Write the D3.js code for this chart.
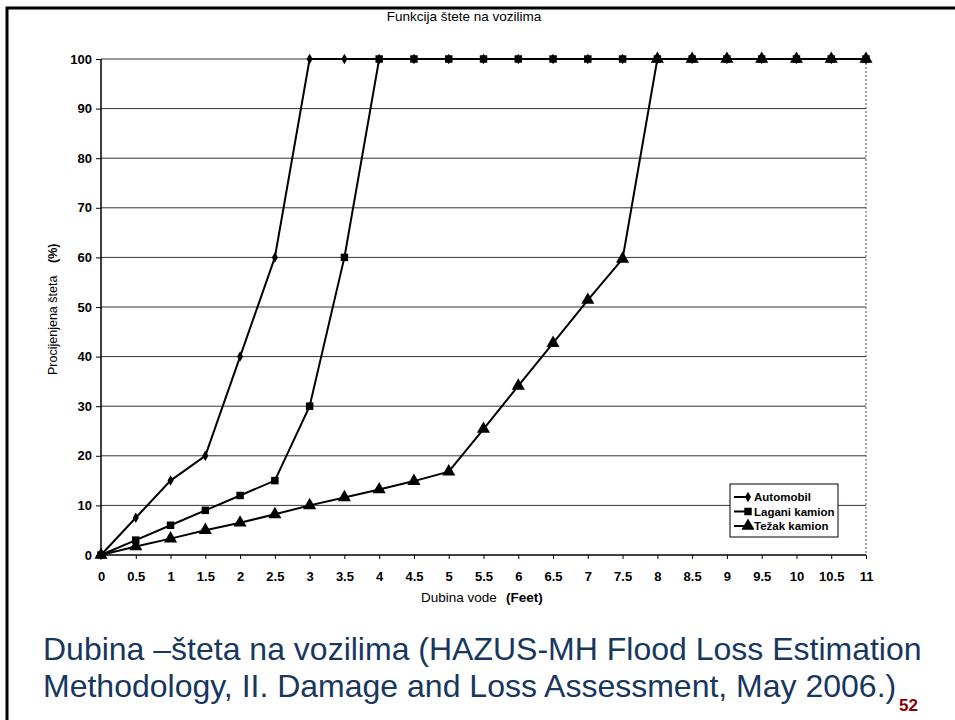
<!DOCTYPE html>
<html>
<head>
<meta charset="utf-8">
<script src="https://cdn.jsdelivr.net/npm/d3@7"></script>
<style>
  body { margin: 0; background: #fff; }
  text { font-family: "Liberation Sans", Arial, sans-serif; }
</style>
</head>
<body>
<div id="chart"></div>
<script>
// data
const depths = [0, 0.5, 1, 1.5, 2, 2.5, 3, 3.5, 4, 4.5, 5, 5.5, 6, 6.5, 7, 7.5, 8, 8.5, 9, 9.5, 10, 10.5, 11];
const automobil = [0, 7.5, 15, 20, 40, 60, 100, 100, 100, 100, 100, 100, 100, 100, 100, 100, 100, 100, 100, 100, 100, 100, 100];
const laganiKamion = [0, 3, 6, 9, 12, 15, 30, 60, 100, 100, 100, 100, 100, 100, 100, 100, 100, 100, 100, 100, 100, 100, 100];
const tezakKamion = [0, 1.7, 3.3, 5, 6.5, 8.2, 10, 11.6, 13.2, 14.9, 16.8, 25.4, 34.1, 42.7, 51.4, 59.7, 100, 100, 100, 100, 100, 100, 100];
const seriesNames = ["Automobil", "Lagani kamion", "Težak kamion"];
const xTicks = [0, 0.5, 1, 1.5, 2, 2.5, 3, 3.5, 4, 4.5, 5, 5.5, 6, 6.5, 7, 7.5, 8, 8.5, 9, 9.5, 10, 10.5, 11];
const yTicks = [0, 10, 20, 30, 40, 50, 60, 70, 80, 90, 100];

const W = 955, H = 720;
const margin = {top: 59, left: 101, right: 89, bottom: 165};
const width = W - margin.left - margin.right,
      height = H - margin.top - margin.bottom;

const x = d3.scaleLinear().domain([0, 11]).range([0, width]);
const y = d3.scaleLinear().domain([0, 100]).range([height, 0]);

const svg = d3.select("#chart").append("svg")
  .attr("width", W).attr("height", H);

// slide frame
svg.append("path")
  .attr("d", "M7,720 V8 H955")
  .attr("fill", "none").attr("stroke", "#000").attr("stroke-width", 3);

// chart title
svg.append("text")
  .attr("x", 464).attr("y", 21)
  .attr("text-anchor", "middle")
  .style("font-size", "13.5px")
  .text("Funkcija štete na vozilima");

const g = svg.append("g")
  .attr("transform", "translate(" + margin.left + "," + margin.top + ")");

// horizontal grid
g.selectAll(".grid")
  .data(yTicks.filter(d => d > 0))
  .enter().append("line")
  .attr("x1", 0).attr("x2", width)
  .attr("y1", d => y(d)).attr("y2", d => y(d))
  .attr("stroke", "#333").attr("stroke-width", 1);

// right dashed border
g.append("line")
  .attr("x1", width).attr("x2", width)
  .attr("y1", 0).attr("y2", height)
  .attr("stroke", "#555").attr("stroke-width", 1)
  .attr("stroke-dasharray", "2,2");

// axes
const yAxis = g.append("g")
  .call(d3.axisLeft(y).tickValues(yTicks).tickSize(5).tickPadding(4));
const xAxis = g.append("g")
  .attr("transform", "translate(0," + height + ")")
  .call(d3.axisBottom(x).tickValues(xTicks).tickSize(4).tickPadding(13)
        .tickFormat(d3.format("")));
[yAxis, xAxis].forEach(a => {
  a.select(".domain").attr("stroke", "#000").attr("stroke-width", 1.5);
  a.selectAll(".tick line").attr("stroke", "#000");
  a.selectAll("text")
   .style("font-family", "'Liberation Sans', Arial, sans-serif")
   .style("font-size", "13px").style("font-weight", "bold").attr("fill", "#000");
});
xAxis.select(".domain").attr("d", "M0,0H" + width);
yAxis.select(".domain").attr("d", "M0,0V" + height);

// series
const line = d3.line().x(d => x(d[0])).y(d => y(d[1]));
const symbols = [
  d3.symbol().type(d3.symbolDiamond).size(32),
  d3.symbol().type(d3.symbolSquare).size(56),
  d3.symbol().type(d3.symbolTriangle).size(75)
];
[automobil, laganiKamion, tezakKamion].forEach((vals, i) => {
  const pts = depths.map((d, j) => [d, vals[j]]);
  g.append("path")
    .datum(pts)
    .attr("d", line)
    .attr("fill", "none").attr("stroke", "#000").attr("stroke-width", 2);
  g.selectAll(".m" + i)
    .data(pts)
    .enter().append("path")
    .attr("d", symbols[i])
    .attr("transform", d => "translate(" + x(d[0]) + "," + y(d[1]) + ")")
    .attr("fill", "#000");
});

// legend
const lg = svg.append("g").attr("transform", "translate(730,484)");
lg.append("rect")
  .attr("width", 108).attr("height", 53)
  .attr("fill", "#fff").attr("stroke", "#000").attr("stroke-width", 1);
seriesNames.forEach((name, i) => {
  const yy = 13 + i * 14.5;
  lg.append("line")
    .attr("x1", 4).attr("x2", 20).attr("y1", yy).attr("y2", yy)
    .attr("stroke", "#000").attr("stroke-width", 2);
  lg.append("path")
    .attr("d", symbols[i])
    .attr("transform", "translate(18," + yy + ")")
    .attr("fill", "#000");
  lg.append("text")
    .attr("x", 24).attr("y", yy + 4)
    .style("font-size", "11.5px").style("font-weight", "bold")
    .text(name);
});

// axis titles
svg.append("text")
  .attr("transform", "translate(57,375)rotate(-90)")
  .style("font-size", "12.5px")
  .text("Procijenjena šteta");
svg.append("text")
  .attr("transform", "translate(57,263)rotate(-90)")
  .style("font-size", "12.5px").style("font-weight", "bold")
  .text("(%)");

svg.append("text")
  .attr("x", 421).attr("y", 602)
  .style("font-size", "13.5px")
  .text("Dubina vode");
svg.append("text")
  .attr("x", 506).attr("y", 602)
  .style("font-size", "13.5px").style("font-weight", "bold")
  .text("(Feet)");

// slide caption
const caption = ["Dubina –šteta na vozilima (HAZUS-MH Flood Loss Estimation",
                 "Methodology, II. Damage and Loss Assessment, May 2006.)"];
caption.forEach((t, i) => {
  svg.append("text")
    .attr("x", 43).attr("y", 660 + i * 37)
    .style("font-size", "32px").attr("fill", "#17375e")
    .text(t);
});
svg.append("text")
  .attr("x", 899).attr("y", 711)
  .style("font-size", "17px").style("font-weight", "bold")
  .attr("fill", "#8b0000")
  .text("52");
</script>
</body>
</html>
